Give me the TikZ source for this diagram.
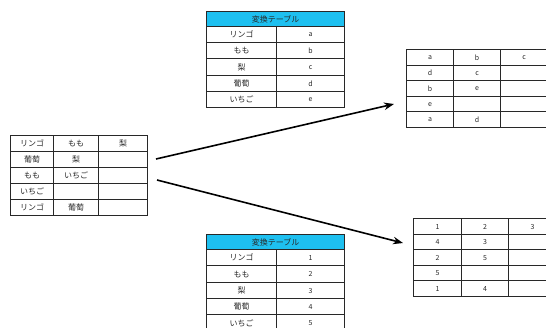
\documentclass[tikz,border=0pt]{standalone}
\usepackage{fontspec}
\setmainfont{Noto Sans CJK JP}
\usetikzlibrary{arrows.meta}
\definecolor{hdr}{RGB}{30,192,240}
\definecolor{bord}{RGB}{40,40,40}
\definecolor{txt}{RGB}{40,40,40}
\newcommand\tcell[7][jp]{%
  \node[cell,#1,minimum width={#5-#3},minimum height={#6-#4}] (#2) at (#3,#4) {#7};}
\begin{document}
\begin{tikzpicture}[x=1pt,y=-1pt,
  cell/.style={draw=bord,line width=1.2pt,inner sep=0pt,anchor=north west,text=txt},
  jp/.style={font=\fontsize{8}{9}\selectfont},
  lat/.style={font=\fontsize{7}{8}\selectfont},
  hd/.style={fill=hdr,font=\fontsize{8}{9}\selectfont},
  conn/.style={line width=1.6pt,-{Stealth[length=10pt,width=7.5pt]}}]
\useasboundingbox (0,0) rectangle (546,327);
% ---- top conversion table ----
\tcell[hd]{T-h}{206}{11}{344}{26}{変換テーブル}
\foreach \r/\a/\b in {1/リンゴ/a,2/もも/b,3/梨/c,4/葡萄/d,5/いちご/e}{
  \pgfmathsetmacro\ya{round(26+16.2*(\r-1))}
  \pgfmathsetmacro\yb{round(26+16.2*\r)}
  \tcell[jp]{T-\r-1}{206}{\ya}{276}{\yb}{\a}
  \tcell[lat]{T-\r-2}{276}{\ya}{344}{\yb}{\b}
}
% ---- bottom conversion table ----
\tcell[hd]{B-h}{206}{234}{344}{249}{変換テーブル}
\foreach \r/\a/\b in {1/リンゴ/1,2/もも/2,3/梨/3,4/葡萄/4,5/いちご/5}{
  \pgfmathsetmacro\ya{round(249+16.3*(\r-1))}
  \pgfmathsetmacro\yb{round(249+16.3*\r)}
  \tcell[jp]{B-\r-1}{206}{\ya}{276}{\yb}{\a}
  \tcell[lat]{B-\r-2}{276}{\ya}{344}{\yb}{\b}
}
% ---- left source table ----
\foreach \r/\a/\b/\c in {1/リンゴ/もも/梨,2/葡萄/梨/,3/もも/いちご/,4/いちご//,5/リンゴ/葡萄/}{
  \pgfmathsetmacro\ya{135+16*(\r-1)}
  \pgfmathsetmacro\yb{135+16*\r}
  \tcell[jp]{L-\r-1}{10}{\ya}{53}{\yb}{\a}
  \tcell[jp]{L-\r-2}{53}{\ya}{98}{\yb}{\b}
  \tcell[jp]{L-\r-3}{98}{\ya}{147}{\yb}{\c}
}
% ---- right top result table ----
\foreach \r/\a/\b/\c in {1/a/b/c,2/d/c/,3/b/e/,4/e//,5/a/d/}{
  \pgfmathsetmacro\ya{round(49+15.6*(\r-1))}
  \pgfmathsetmacro\yb{round(49+15.6*\r)}
  \tcell[lat]{R-\r-1}{406}{\ya}{453}{\yb}{\a}
  \tcell[lat]{R-\r-2}{453}{\ya}{500}{\yb}{\b}
  \tcell[lat]{R-\r-3}{500}{\ya}{547}{\yb}{\c}
}
% ---- right bottom result table ----
\foreach \r/\a/\b/\c in {1/1/2/3,2/4/3/,3/2/5/,4/5//,5/1/4/}{
  \pgfmathsetmacro\ya{round(218+15.5*(\r-1))}
  \pgfmathsetmacro\yb{round(218+15.5*\r)}
  \tcell[lat]{S-\r-1}{413}{\ya}{461}{\yb}{\a}
  \tcell[lat]{S-\r-2}{461}{\ya}{508}{\yb}{\b}
  \tcell[lat]{S-\r-3}{508}{\ya}{556}{\yb}{\c}
}
% ---- connectors ----
\coordinate (a1s) at (156,159);
\coordinate (a1e) at (394,104);
\coordinate (a2s) at (157,180);
\coordinate (a2e) at (403,243);
\draw[conn] (a1s) -- (a1e);
\draw[conn] (a2s) -- (a2e);
\end{tikzpicture}
\end{document}
